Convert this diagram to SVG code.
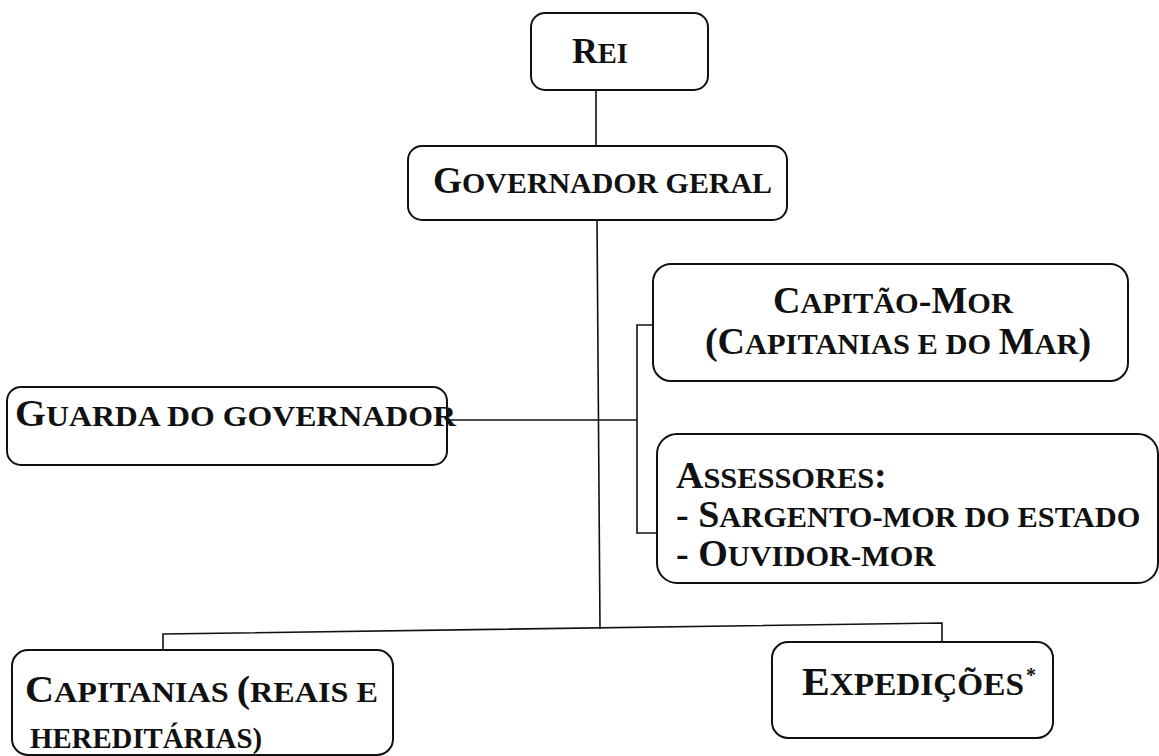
<svg xmlns="http://www.w3.org/2000/svg" width="1159" height="756" viewBox="0 0 1159 756">
<style>
.box{fill:#fff;stroke:#111;stroke-width:2}
.t{font-family:"Liberation Serif","Times New Roman",serif;font-weight:bold;fill:#111}
.sc{font-size:0.8em}
.conn{stroke:#111;stroke-width:1.6;fill:none}
</style>
<rect x="0" y="0" width="1159" height="756" fill="#fff"/>
<g id="connectors">
<line class="conn" x1="596" y1="90" x2="596" y2="146"/>
<line class="conn" x1="597" y1="220" x2="600" y2="629"/>
<line class="conn" x1="447" y1="420" x2="637" y2="420"/>
<polyline class="conn" points="653,325 637,325 637,533 657,533"/>
<polyline class="conn" points="163,650 163,634 942,623 942,642"/>
</g>
<g id="rei">
<rect class="box" x="531" y="13" width="177" height="77" rx="14"/>
<text class="t" x="572" y="63" font-size="36" textLength="56" lengthAdjust="spacingAndGlyphs">R<tspan class="sc">EI</tspan></text>
</g>
<g id="governador">
<rect class="box" x="408" y="146" width="379" height="74" rx="14"/>
<text class="t" x="433" y="193" font-size="37" textLength="339" lengthAdjust="spacingAndGlyphs">G<tspan class="sc">OVERNADOR GERAL</tspan></text>
</g>
<g id="guarda">
<rect class="box" x="7" y="387" width="440" height="78" rx="14"/>
<text class="t" x="15" y="426" font-size="38" textLength="441" lengthAdjust="spacingAndGlyphs">G<tspan class="sc">UARDA DO GOVERNADOR</tspan></text>
</g>
<g id="capitao-mor">
<rect class="box" x="653" y="264" width="475" height="117" rx="18"/>
<text class="t" x="893" y="313" font-size="38" text-anchor="middle">C<tspan class="sc">APITÃO</tspan>-M<tspan class="sc">OR</tspan></text>
<text class="t" x="898" y="354" font-size="38" text-anchor="middle">(C<tspan class="sc">APITANIAS E DO </tspan>M<tspan class="sc">AR</tspan>)</text>
</g>
<g id="assessores">
<rect class="box" x="657" y="434" width="501" height="149" rx="20"/>
<text class="t" x="676" y="488" font-size="38">A<tspan class="sc">SSESSORES</tspan>:</text>
<text class="t" x="676" y="527" font-size="38">- S<tspan class="sc">ARGENTO-MOR DO ESTADO</tspan></text>
<text class="t" x="676" y="566" font-size="38">- O<tspan class="sc">UVIDOR-MOR</tspan></text>
</g>
<g id="capitanias">
<rect class="box" x="12" y="650" width="381" height="105" rx="16"/>
<text class="t" x="25" y="702" font-size="37" textLength="353" lengthAdjust="spacingAndGlyphs">C<tspan class="sc">APITANIAS </tspan>(<tspan class="sc">REAIS E</tspan></text>
<text class="t" x="30" y="748" font-size="30" textLength="232" lengthAdjust="spacingAndGlyphs">HEREDITÁRIAS)</text>
</g>
<g id="expedicoes">
<rect class="box" x="772" y="642" width="281" height="96" rx="16"/>
<text class="t" x="802" y="695" font-size="40" textLength="222" lengthAdjust="spacingAndGlyphs">E<tspan class="sc">XPEDIÇÕES</tspan></text>
<text class="t" x="1026" y="682" font-size="20">*</text>
</g>
</svg>
